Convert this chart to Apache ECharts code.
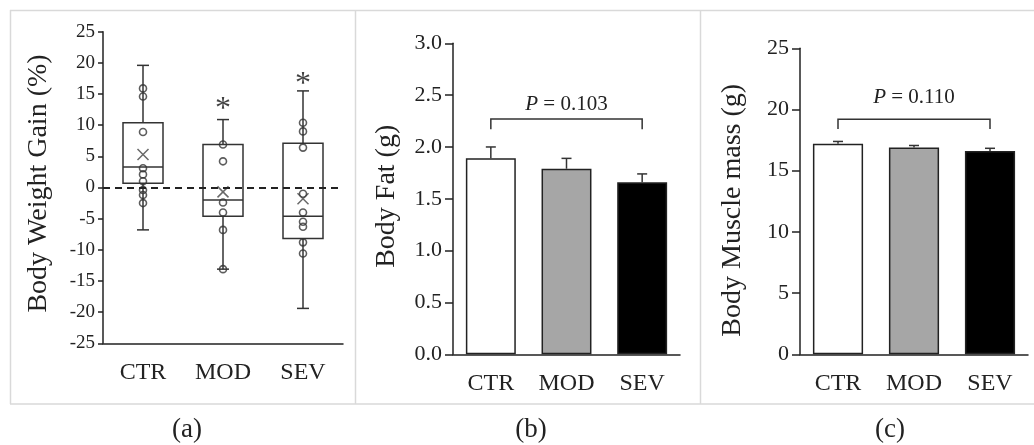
<!DOCTYPE html>
<html>
<head>
<meta charset="utf-8">
<script src="https://cdn.jsdelivr.net/npm/echarts@6/dist/echarts.min.js"></script>
<style>html,body{margin:0;padding:0;background:#fff;}#c{width:1034px;height:445px;}</style>
</head>
<body>
<div id="c"></div>
<script>
// ---- data ----
var categories = ['CTR', 'MOD', 'SEV'];
// box stats: [min, Q1, median, Q3, max]
var boxCTR = [-6.8, 0.7, 3.3, 10.4, 19.6];
var boxMOD = [-13.1, -4.6, -2.0, 6.9, 10.9];
var boxSEV = [-19.4, -8.2, -4.6, 7.1, 15.5];
var meanGain = [5.3, -0.7, -1.8];
var pointsCTR = [15.9, 14.6, 8.9, 3.1, 2.1, 1.0, -0.4, -1.2, -2.5];
var pointsMOD = [6.9, 4.2, -2.4, -4.0, -6.8, -13.1];
var pointsSEV = [10.4, 9.0, 6.4, -1.0, -4.0, -5.5, -6.3, -8.8, -10.6];
var starY = [null, 13.5, 17.5];
var gainTicks = [-25, 25, 5];

var fatMean = [1.89, 1.79, 1.66];
var fatSE = [0.11, 0.10, 0.08];
var fatBracket = [2.27, 2.17];
var fatP = 'P = 0.103';
var fatTextY = 2.41;

var muscleMean = [17.2, 16.9, 16.6];
var muscleSE = [0.19, 0.16, 0.23];
var muscleBracket = [19.2, 18.4];
var muscleP = 'P = 0.110';
var muscleTextY = 21.0;

var barColors = ['#ffffff', '#a6a6a6', '#000000'];

// ---- helpers ----
var FONT = '"Liberation Serif", "Times New Roman", serif';
var INK = '#222';
var boxes = [boxCTR, boxMOD, boxSEV];
var boxData = boxes.map(function (b, i) { return [i].concat(b); });
var pointData = [];
[pointsCTR, pointsMOD, pointsSEV].forEach(function (arr, i) {
  arr.forEach(function (v) { pointData.push([i, v]); });
});
var meanData = meanGain.map(function (v, i) { return [i, v]; });
var starData = [];
starY.forEach(function (v, i) { if (v !== null) starData.push([i, v]); });

function renderBox(params, api) {
  var x = api.value(0);
  var lo = api.coord([x, api.value(1)]);
  var q1 = api.coord([x, api.value(2)]);
  var md = api.coord([x, api.value(3)]);
  var q3 = api.coord([x, api.value(4)]);
  var hi = api.coord([x, api.value(5)]);
  var cx = md[0];
  var bw = api.size([1, 0])[0] * 0.5;
  var cap = 6;
  var st = { stroke: '#333', lineWidth: 1.5, fill: 'none' };
  return {
    type: 'group',
    children: [
      { type: 'line', shape: { x1: cx, y1: hi[1], x2: cx, y2: q3[1] }, style: st },
      { type: 'line', shape: { x1: cx, y1: q1[1], x2: cx, y2: lo[1] }, style: st },
      { type: 'line', shape: { x1: cx - cap, y1: hi[1], x2: cx + cap, y2: hi[1] }, style: st },
      { type: 'line', shape: { x1: cx - cap, y1: lo[1], x2: cx + cap, y2: lo[1] }, style: st },
      { type: 'rect', shape: { x: cx - bw / 2, y: q3[1], width: bw, height: q1[1] - q3[1] }, style: st },
      { type: 'line', shape: { x1: cx - bw / 2, y1: md[1], x2: cx + bw / 2, y2: md[1] }, style: st }
    ]
  };
}

function renderErr(params, api) {
  var x = api.value(0);
  var m = api.coord([x, api.value(1)]);
  var t = api.coord([x, api.value(1) + api.value(2)]);
  var cap = 5;
  var st = { stroke: '#333', lineWidth: 1.5 };
  return {
    type: 'group',
    children: [
      { type: 'line', shape: { x1: m[0], y1: m[1], x2: t[0], y2: t[1] }, style: st },
      { type: 'line', shape: { x1: t[0] - cap, y1: t[1], x2: t[0] + cap, y2: t[1] }, style: st }
    ]
  };
}

function makeBracket(text, textY) {
  return function (params, api) {
    var a = api.coord([api.value(0), api.value(2)]);
    var b = api.coord([api.value(1), api.value(2)]);
    var a2 = api.coord([api.value(0), api.value(3)]);
    var b2 = api.coord([api.value(1), api.value(3)]);
    var tp = api.coord([(api.value(0) + api.value(1)) / 2, textY]);
    var parts = text.split(' ');
    return {
      type: 'group',
      children: [
        { type: 'polyline', shape: { points: [[a2[0], a2[1]], [a[0], a[1]], [b[0], b[1]], [b2[0], b2[1]]] },
          style: { stroke: '#333', lineWidth: 1.5, fill: 'none' } },
        { type: 'text', style: {
            text: '{i|' + parts[0] + '} ' + parts.slice(1).join(' '),
            x: tp[0], y: tp[1], align: 'center', verticalAlign: 'middle',
            fill: INK, fontSize: 21, fontFamily: FONT,
            rich: { i: { fontStyle: 'italic', fontSize: 21, fontFamily: FONT, fill: INK } }
          } }
      ]
    };
  };
}

function yAxis(idx, min, max, interval, name, gap, fmt, tickFont, tickLen, pad) {
  return {
    type: 'value', gridIndex: idx, min: min, max: max, interval: interval,
    name: name, nameLocation: 'middle', nameGap: gap, nameRotate: 90,
    nameTextStyle: { fontFamily: FONT, fontSize: 28, color: INK, padding: pad },
    axisLine: { show: true, lineStyle: { color: '#222', width: 1.5 } },
    axisTick: { show: true, length: tickLen, lineStyle: { color: '#222', width: 1.5 } },
    axisLabel: { fontFamily: FONT, fontSize: tickFont, color: INK, margin: tickLen + 3, formatter: fmt },
    splitLine: { show: false }
  };
}
function xAxis(idx, margin) {
  return {
    type: 'category', gridIndex: idx, data: categories,
    axisLine: { onZero: false, lineStyle: { color: '#222', width: 1.5 } },
    axisTick: { show: false },
    axisLabel: { fontFamily: FONT, fontSize: 24, color: INK, margin: margin }
  };
}

var chart = echarts.init(document.getElementById('c'));
var frame = { stroke: '#d9d9d9', lineWidth: 1.5 };
chart.setOption({
  animation: false,
  backgroundColor: '#ffffff',
  grid: [
    { left: 103, top: 31.7, width: 240, height: 311.6 },
    { left: 453, top: 43.3, width: 227, height: 311 },
    { left: 800, top: 48.3, width: 228, height: 306 }
  ],
  xAxis: [xAxis(0, 17), xAxis(1, 17), xAxis(2, 17)],
  yAxis: [
    yAxis(0, gainTicks[0], gainTicks[1], gainTicks[2], 'Body Weight Gain (%)', 50, null, 19, 5, [0, 0, 0, 8]),
    yAxis(1, 0, 3, 0.5, 'Body Fat (g)', 52, function (v) { return v.toFixed(1); }, 22, 8, [0, 0, 0, 5]),
    yAxis(2, 0, 25, 5, 'Body Muscle mass (g)', 53, null, 22, 8, [0, 18, 0, 0])
  ],
  graphic: [
    { type: 'line', shape: { x1: 10, y1: 10.5, x2: 1034, y2: 10.5 }, style: frame, silent: true },
    { type: 'line', shape: { x1: 10, y1: 404, x2: 1034, y2: 404 }, style: frame, silent: true },
    { type: 'line', shape: { x1: 10.5, y1: 10, x2: 10.5, y2: 404 }, style: frame, silent: true },
    { type: 'line', shape: { x1: 355.5, y1: 10, x2: 355.5, y2: 404 }, style: frame, silent: true },
    { type: 'line', shape: { x1: 700.5, y1: 10, x2: 700.5, y2: 404 }, style: frame, silent: true },
    { type: 'text', x: 187, y: 430, style: { text: '(a)', fontFamily: FONT, fontSize: 27, fill: INK, align: 'center', verticalAlign: 'middle' } },
    { type: 'text', x: 531, y: 430, style: { text: '(b)', fontFamily: FONT, fontSize: 27, fill: INK, align: 'center', verticalAlign: 'middle' } },
    { type: 'text', x: 890, y: 430, style: { text: '(c)', fontFamily: FONT, fontSize: 27, fill: INK, align: 'center', verticalAlign: 'middle' } }
  ],
  series: [
    {
      type: 'custom', xAxisIndex: 0, yAxisIndex: 0, renderItem: renderBox,
      encode: { x: 0, y: [1, 2, 3, 4, 5] }, data: boxData, z: 2,
      markLine: {
        silent: true, symbol: 'none', label: { show: false },
        lineStyle: { color: '#222', width: 1.8, type: [7, 5] },
        data: [{ yAxis: 0 }]
      }
    },
    {
      type: 'scatter', xAxisIndex: 0, yAxisIndex: 0, data: pointData, symbol: 'circle', symbolSize: 7,
      itemStyle: { color: 'rgba(255,255,255,0)', borderColor: '#333', borderWidth: 1.6 }, z: 3
    },
    {
      type: 'scatter', xAxisIndex: 0, yAxisIndex: 0, data: meanData,
      symbol: 'path://M0,0L10,10M10,0L0,10', symbolSize: 11,
      itemStyle: { color: 'none', borderColor: '#444', borderWidth: 1.5 }, z: 3
    },
    {
      type: 'scatter', xAxisIndex: 0, yAxisIndex: 0, data: starData, symbolSize: 1,
      itemStyle: { color: 'rgba(0,0,0,0)' },
      label: { show: true, position: 'inside', offset: [0, 6], formatter: '*', fontFamily: FONT, fontSize: 32, color: '#111' }
    },
    {
      type: 'bar', xAxisIndex: 1, yAxisIndex: 1, barWidth: '66%',
      data: fatMean.map(function (v, i) { return { value: v, itemStyle: { color: barColors[i] } }; }),
      itemStyle: { borderColor: '#222', borderWidth: 1.5 }
    },
    {
      type: 'custom', xAxisIndex: 1, yAxisIndex: 1, renderItem: renderErr, z: 3,
      encode: { x: 0, y: 1 },
      data: fatMean.map(function (v, i) { return [i, v, fatSE[i]]; })
    },
    {
      type: 'custom', xAxisIndex: 1, yAxisIndex: 1, renderItem: makeBracket(fatP, fatTextY),
      encode: { x: [0, 1], y: [2, 3] }, data: [[0, 2, fatBracket[0], fatBracket[1]]]
    },
    {
      type: 'bar', xAxisIndex: 2, yAxisIndex: 2, barWidth: '66%',
      data: muscleMean.map(function (v, i) { return { value: v, itemStyle: { color: barColors[i] } }; }),
      itemStyle: { borderColor: '#222', borderWidth: 1.5 }
    },
    {
      type: 'custom', xAxisIndex: 2, yAxisIndex: 2, renderItem: renderErr, z: 3,
      encode: { x: 0, y: 1 },
      data: muscleMean.map(function (v, i) { return [i, v, muscleSE[i]]; })
    },
    {
      type: 'custom', xAxisIndex: 2, yAxisIndex: 2, renderItem: makeBracket(muscleP, muscleTextY),
      encode: { x: [0, 1], y: [2, 3] }, data: [[0, 2, muscleBracket[0], muscleBracket[1]]]
    }
  ]
});
</script>
</body>
</html>
